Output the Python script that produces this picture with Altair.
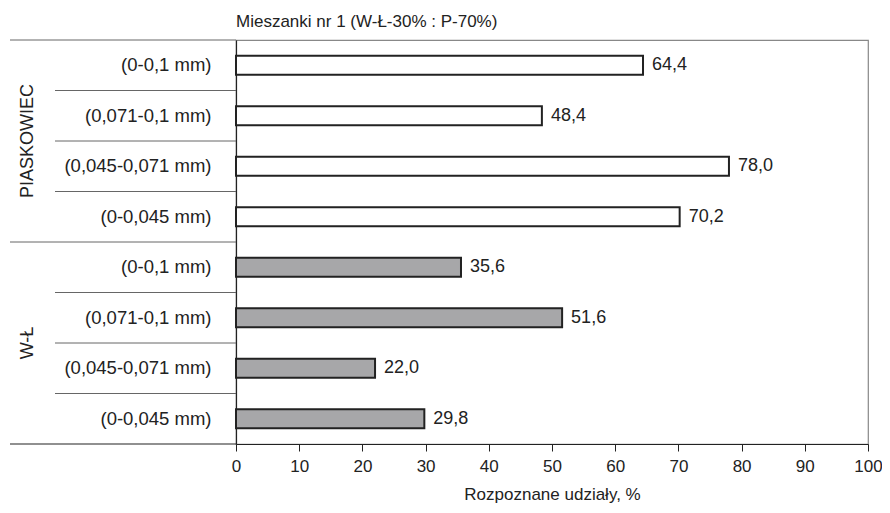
import altair as alt
import pandas as pd

keys = ["P1", "P2", "P3", "P4", "W1", "W2", "W3", "W4"]
labels = ["(0-0,1 mm)", "(0,071-0,1 mm)", "(0,045-0,071 mm)", "(0-0,045 mm)",
          "(0-0,1 mm)", "(0,071-0,1 mm)", "(0,045-0,071 mm)", "(0-0,045 mm)"]
groups = ["PIASKOWIEC"] * 4 + ["W-Ł"] * 4
values = [64.4, 48.4, 78.0, 70.2, 35.6, 51.6, 22.0, 29.8]
value_text = ["64,4", "48,4", "78,0", "70,2", "35,6", "51,6", "22,0", "29,8"]
fills = ["#ffffff"] * 4 + ["#a7a7a9"] * 4

df = pd.DataFrame({"key": keys, "label": labels, "group": groups,
                   "value": values, "text": value_text, "fill": fills})

label_map = "{" + ",".join(f"'{k}':'{l}'" for k, l in zip(keys, labels)) + "}"
FONT = "Liberation Sans"
FS = 17

yscale = alt.Scale(domain=keys, paddingInner=0, paddingOuter=0)
yenc = alt.Y("key:N", scale=yscale, sort=keys,
             axis=alt.Axis(title=None, labelExpr=f"{label_map}[datum.value]",
                           ticks=False, labelPadding=25, labelFontSize=18.5,
                           labelColor="#222", domainColor="#222", domainWidth=1.2,
                           labelFont=FONT, labelLimit=300))

bars = alt.Chart(df).mark_bar(height=alt.RelativeBandSize(0.38), stroke="#222",
                               strokeWidth=2).encode(
    x=alt.X("value:Q", scale=alt.Scale(domain=[0, 100]),
            axis=alt.Axis(values=list(range(0, 101, 10)), title="Rozpoznane udziały, %",
                          grid=False, tickSize=7, tickColor="#222", domainColor="#222",
                          domainWidth=1.2, labelFontSize=17, labelColor="#222",
                          labelFont=FONT, labelPadding=7, labelFlush=False,
                          titleFontSize=FS, titleFontWeight="normal", titleColor="#222",
                          titleFont=FONT, titlePadding=12)),
    y=yenc,
    fill=alt.Fill("fill:N", scale=None),
)

texts = alt.Chart(df).mark_text(align="left", dx=9, fontSize=18, color="#222",
                                font=FONT).encode(
    x="value:Q", y=alt.Y("key:N", scale=yscale, sort=keys), text="text:N")

# separator lines
sep_keys = ["P2", "P3", "P4", "W2", "W3", "W4"]
seps = pd.DataFrame({"key": sep_keys})
short_rules = alt.Chart(seps).mark_rule(color="#666", strokeWidth=1).encode(
    y=alt.Y("key:N", scale=yscale, sort=keys, bandPosition=0),
    x=alt.value(-181), x2=alt.value(0))

long_df = pd.DataFrame({"key": ["P1", "W1"]})
long_rules = alt.Chart(long_df).mark_rule(color="#666", strokeWidth=1).encode(
    y=alt.Y("key:N", scale=yscale, sort=keys, bandPosition=0),
    x=alt.value(-226), x2=alt.value(0))

bottom_df = pd.DataFrame({"key": ["W4"]})
bottom_rule = alt.Chart(bottom_df).mark_rule(color="#222", strokeWidth=1.2).encode(
    y=alt.Y("key:N", scale=yscale, sort=keys, bandPosition=1),
    x=alt.value(-226), x2=alt.value(0))

grp_df = pd.DataFrame({"group": ["PIASKOWIEC", "W-Ł"], "key": ["P3", "W3"]})
grp_text = alt.Chart(grp_df).mark_text(angle=270, align="center", baseline="middle",
                                       fontSize=18, color="#222",
                                       font=FONT).encode(
    y=alt.Y("key:N", scale=yscale, sort=keys, bandPosition=0),
    x=alt.value(-208), text="group:N")

chart = alt.layer(short_rules, long_rules, bottom_rule, bars, texts, grp_text).properties(
    width=632, height=404,
    title=alt.TitleParams("Mieszanki nr 1 (W-Ł-30% : P-70%)", anchor="start", frame="group",
                          fontSize=FS, fontWeight="normal", color="#222",
                          font=FONT, offset=9),
    autosize=alt.AutoSizeParams(type="none"),
    padding={"left": 228, "top": 32, "right": 14, "bottom": 60},
).configure_view(stroke="#888", strokeWidth=1.2)

chart.save("out.html", embed_options={"renderer": "svg", "actions": False})
